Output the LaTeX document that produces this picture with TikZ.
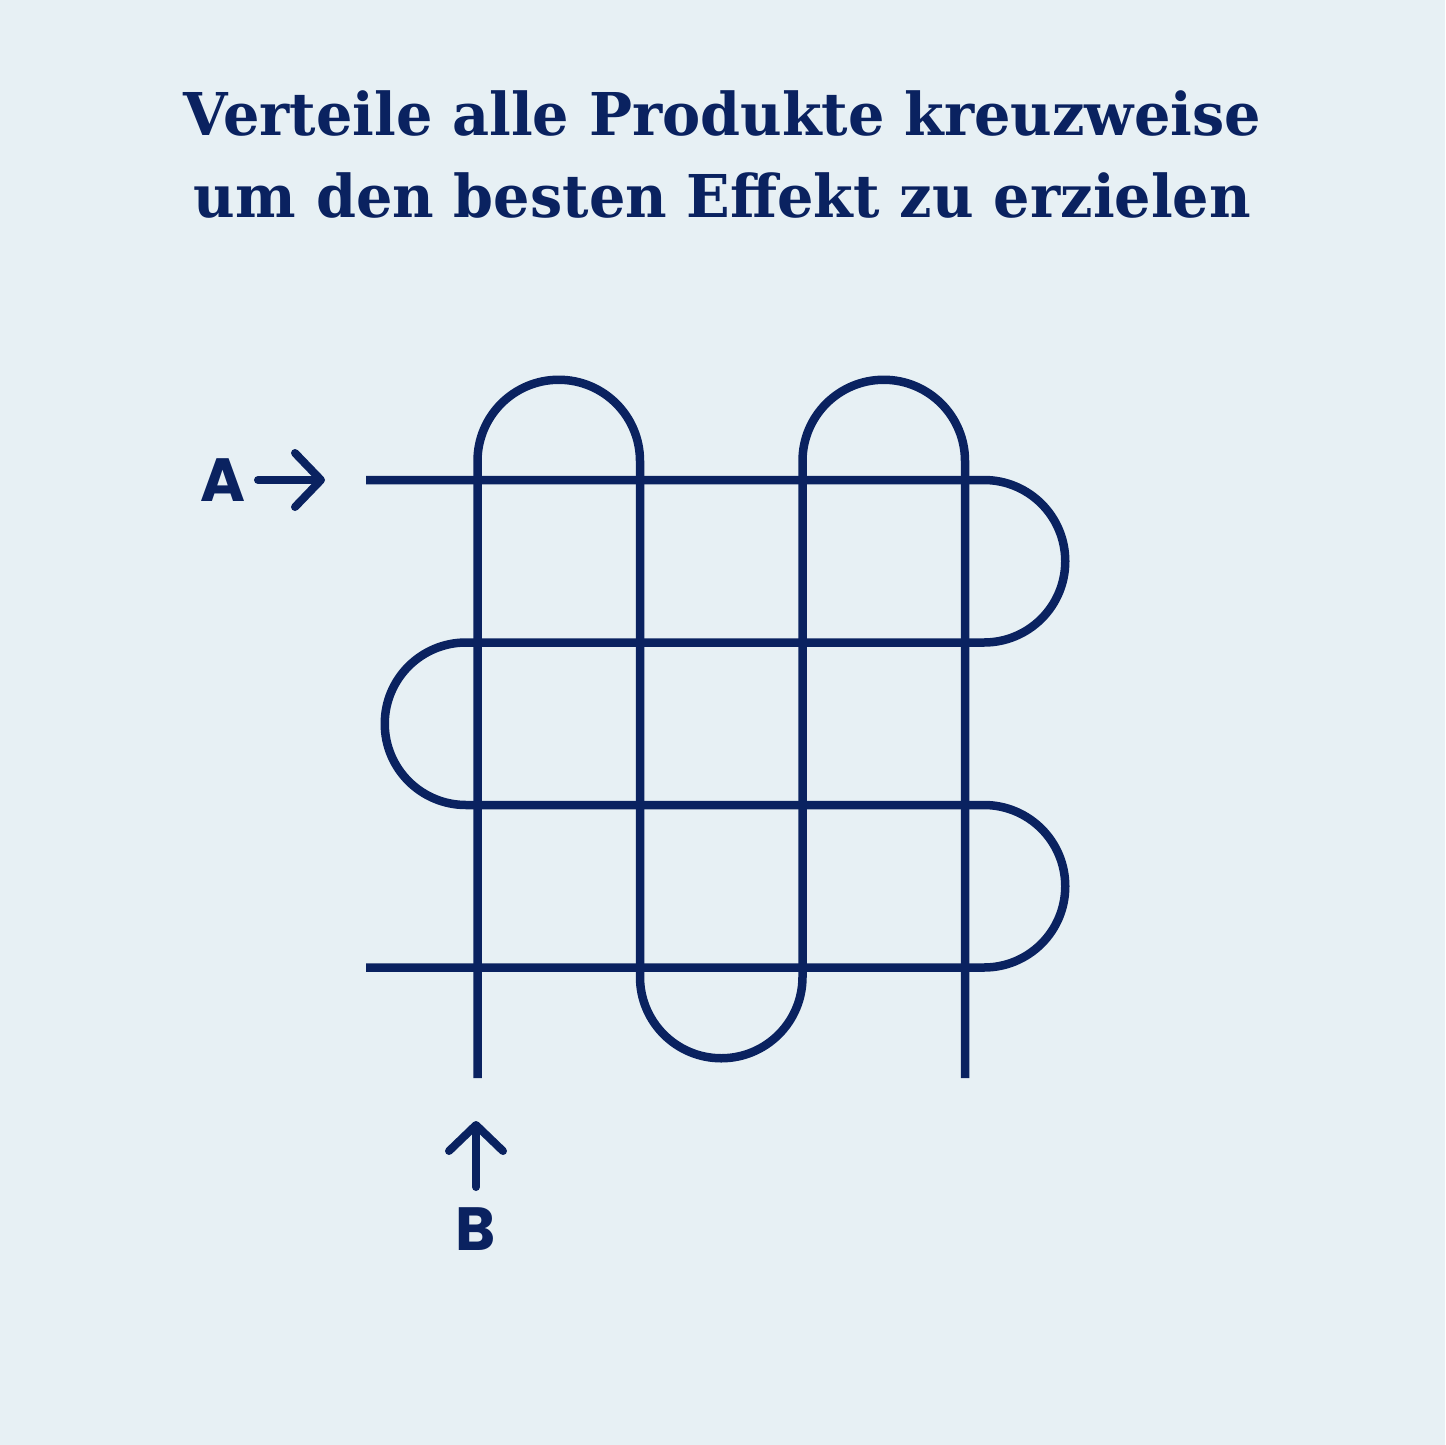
\documentclass[tikz,border=0pt]{standalone}
\usepackage{fontspec}
\usepackage{tikz}
\usetikzlibrary{arrows.meta}
\newfontfamily\titlefont{DejaVu Serif}
\newfontfamily\letterfont{Poppins}
\definecolor{navy}{HTML}{0A2260}
\definecolor{paleblue}{HTML}{E7F0F4}

\begin{document}
\begin{tikzpicture}[x=1pt, y=-1pt]
	\tikzstyle{heading} = [anchor=base, inner sep=0pt, text=navy, 
	font=\titlefont\bfseries\fontsize{59}{70}\selectfont, xscale=0.97]
	\tikzstyle{letter} = [anchor=base, inner sep=0pt, text=navy, 
	font=\letterfont\bfseries\fontsize{61}{70}\selectfont]
	\tikzstyle{weave} = [draw=navy, line width=8.5pt, line join=round]
	\tikzstyle{arrow} = [draw=navy, line width=8pt, line cap=round, 
	-{Straight Barb[length=26pt, width=54pt, round]}]
	\fill [paleblue] (0,0) rectangle (1445,1445);
	\useasboundingbox (0,0) rectangle (1445,1445);
	\node (titleTop) [heading] at (722.5,135) 
	{Verteile alle Produkte kreuzweise};
	\node (titleBottom) [heading] at (722.5,217) 
	{um den besten Effekt zu erzielen};
	\node (labelA) [letter] at (223,501) {A};
	\node (labelB) [letter] at (476,1250) {B};
	\coordinate (arrowAStart) at (258,480);
	\coordinate (arrowAEnd) at (325,480);
	\coordinate (arrowBStart) at (476,1187);
	\coordinate (arrowBEnd) at (476,1121);
	\coordinate (rowStart) at (366,480);
	\coordinate (rowEnd) at (366,967.5);
	\coordinate (colStart) at (477.5,1078);
	\coordinate (colEnd) at (965,1078);
	\draw [arrow] (arrowAStart) -- (arrowAEnd);
	\draw [arrow] (arrowBStart) -- (arrowBEnd);
	% path A, left to right and back
	\draw [weave] (rowStart) -- (984,480) 
	arc [start angle=-90, end angle=90, radius=81.25] -- (466,642.5) 
	arc [start angle=-90, end angle=-270, radius=81.25] -- (984,805) 
	arc [start angle=-90, end angle=90, radius=81.25] -- (rowEnd);
	% path B, bottom to top and back
	\draw [weave] (colStart) -- (477.5,461) 
	arc [start angle=180, end angle=360, radius=81.25] -- (640,977) 
	arc [start angle=180, end angle=0, radius=81.25] -- (802.5,461) 
	arc [start angle=180, end angle=360, radius=81.25] -- (colEnd);
\end{tikzpicture}
\end{document}
